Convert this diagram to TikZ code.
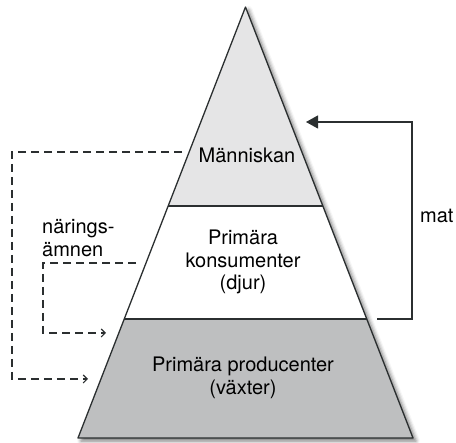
\documentclass[tikz,border=0pt]{standalone}
\usepackage{fontspec}
\setmainfont{TeX Gyre Heros}
\usepackage{xcolor}
\usepackage{tikz}
\usetikzlibrary{arrows.meta, shadows.blur}

\definecolor{edgegray}{HTML}{2B2F30}
\definecolor{toplayer}{HTML}{E5E5E6}
\definecolor{baselayer}{HTML}{BEBFC0}

\begin{document}
\begin{tikzpicture}[
    x=1pt, y=-1pt,
    txt/.style={font=\fontsize{20}{22.5}\selectfont, align=center},
    layer/.style={draw=edgegray, line width=1.3pt, line join=round},
    feed/.style={draw=edgegray, line width=1.1pt, dash pattern=on 8pt off 5pt, -{Straight Barb[length=4pt, width=8pt]}},
    food/.style={draw=edgegray, line width=1.1pt, -{Triangle[length=12pt, width=13pt]}}
]
    \useasboundingbox (0,0) rectangle (456,443);

    \coordinate (apex) at (245.5,7);
    \coordinate (bl) at (78,438);
    \coordinate (br) at (413,438);
    \coordinate (l1) at (168.2,206);
    \coordinate (r1) at (322.8,206);
    \coordinate (l2) at (124.2,319);
    \coordinate (r2) at (366.8,319);

    \fill[white, blur shadow={shadow xshift=3pt, shadow yshift=-3pt, shadow blur radius=4pt, shadow opacity=55}] (apex) -- (br) -- (bl) -- cycle;
    \fill[toplayer] (apex) -- (r1) -- (l1) -- cycle;
    \fill[baselayer] (l2) -- (r2) -- (br) -- (bl) -- cycle;
    \draw[layer] (apex) -- (br) -- (bl) -- cycle;
    \draw[layer] (l1) -- (r1);
    \draw[layer] (l2) -- (r2);

    \node[txt] (human) at (247,155) {Människan};
    \node[txt] (animals) at (243,262) {Primära\\konsumenter\\(djur)};
    \node[txt] (plants) at (243,378) {Primära producenter\\(växter)};
    \node[txt, align=left, anchor=west, inner sep=0pt] (nutrients) at (42,238) {närings-\\ämnen};
    \node[txt, anchor=west, inner sep=0pt] (matlabel) at (420,216) {mat};

    \coordinate (humanW) at (182,152);
    \coordinate (animalW) at (136,263);
    \coordinate (plantsA) at (88,379);
    \coordinate (plantsB) at (106,333);
    \coordinate (animalE) at (377,319);
    \coordinate (humanE) at (306,122);

    \draw[feed] (humanW) -- ++(-170,0) |- (plantsA);
    \draw[feed] (animalW) -- ++(-93,0) |- (plantsB);
    \draw[food] (animalE) -- ++(35,0) |- (humanE);
\end{tikzpicture}
\end{document}
